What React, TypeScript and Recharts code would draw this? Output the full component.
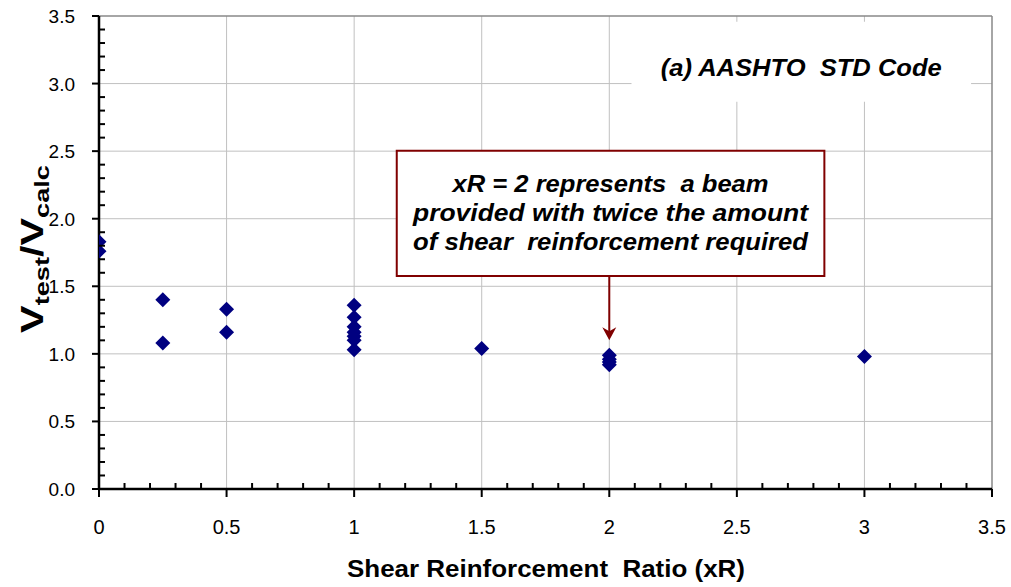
import React from 'react';
import {
  ScatterChart,
  Scatter,
  XAxis,
  YAxis,
  CartesianGrid,
  ReferenceArea,
  ReferenceLine,
} from 'recharts';

// Shear reinforcement ratio (xR) of each test beam and its Vtest/Vcalc
const xR = [0, 0, 0.25, 0.25, 0.5, 0.5, 1, 1, 1, 1, 1, 1, 1, 1.5, 2, 2, 2, 2, 3];
const ratio = [1.83, 1.76, 1.4, 1.08, 1.33, 1.16, 1.36, 1.27, 1.2, 1.16, 1.13, 1.1, 1.03, 1.04, 0.99, 0.96, 0.94, 0.92, 0.98];

const X_TICKS = [0, 0.5, 1, 1.5, 2, 2.5, 3, 3.5];
const Y_TICKS = [0, 0.5, 1, 1.5, 2, 2.5, 3, 3.5];

const NOTE_LINES = [
  'xR = 2 represents  a beam',
  'provided with twice the amount',
  'of shear  reinforcement required',
];
const NOTE_WIDTHS = [316, 395, 395];

const FONT = '"Liberation Sans", Arial, sans-serif';
const NAVY = '#000080';
const MAROON = '#800000';

const points = xR.map((x, i) => ({ x, y: ratio[i] }));

// minor ticks every 0.1 between the labelled ones
const withMinor = (major: number[]) => {
  const out: number[] = [];
  major.forEach((v, i) => {
    out.push(v);
    if (i < major.length - 1) {
      for (let k = 1; k < 5; k++) out.push(Math.round((v + ((major[i + 1] - v) * k) / 5) * 100) / 100);
    }
  });
  return out;
};

const isMajor = (v: number) => Math.abs(v * 2 - Math.round(v * 2)) < 1e-6;

const YTick = (props: any) => {
  const { x, y, payload } = props;
  const v = payload.value;
  if (!isMajor(v)) return <line x1={x} x2={x + 6} y1={y} y2={y} stroke="#000" strokeWidth={2} />;
  return (
    <g>
      <line x1={x - 7} x2={x} y1={y} y2={y} stroke="#000" strokeWidth={2} />
      <text x={x - 24} y={y + 7} textAnchor="end" fontSize={19} fontFamily={FONT} fill="#000">
        {v.toFixed(1)}
      </text>
    </g>
  );
};

const XTick = (props: any) => {
  const { x, y, payload } = props;
  const v = payload.value;
  if (!isMajor(v)) return <line x1={x} x2={x} y1={y - 6} y2={y} stroke="#000" strokeWidth={2} />;
  return (
    <g>
      <line x1={x} x2={x} y1={y} y2={y + 8} stroke="#000" strokeWidth={2} />
      <text x={x} y={y + 45} textAnchor="middle" fontSize={20} fontFamily={FONT} fill="#000">
        {String(v)}
      </text>
    </g>
  );
};

const Diamond = (props: any) => {
  const { cx, cy } = props;
  const r = 7.5;
  return <polygon points={`${cx},${cy - r} ${cx + r},${cy} ${cx},${cy + r} ${cx - r},${cy}`} fill={NAVY} />;
};

const Arrow = (props: any) => {
  const { x1, y1, x2, y2 } = props;
  return (
    <g>
      <line x1={x1} y1={y1} x2={x2} y2={y2 - 8} stroke={MAROON} strokeWidth={2} />
      <polygon points={`${x2},${y2} ${x2 + 7},${y2 - 13} ${x2},${y2 - 9} ${x2 - 7},${y2 - 13}`} fill={MAROON} />
    </g>
  );
};

const NoteText = ({ viewBox }: any) => {
  const cx = viewBox.x + viewBox.width / 2;
  return (
    <g>
      {NOTE_LINES.map((t, i) => (
        <text
          key={i}
          x={cx}
          y={viewBox.y + 41 + i * 29}
          textAnchor="middle"
          fontSize={24}
          fontWeight="bold"
          fontStyle="italic"
          fontFamily={FONT}
          textLength={NOTE_WIDTHS[i]}
          lengthAdjust="spacingAndGlyphs"
          style={{ whiteSpace: 'pre' }}
          fill="#000"
        >
          {t}
        </text>
      ))}
    </g>
  );
};

const TitleText = ({ viewBox }: any) => (
  <text
    x={viewBox.x + viewBox.width / 2}
    y={viewBox.y + 54}
    textAnchor="middle"
    fontSize={23}
    fontWeight="bold"
    fontStyle="italic"
    fontFamily={FONT}
    textLength={281}
    lengthAdjust="spacingAndGlyphs"
    style={{ whiteSpace: 'pre' }}
    fill="#000"
  >
    (a) AASHTO  STD Code
  </text>
);

export default function App() {
  return (
    <div style={{ position: 'absolute', left: 0, top: 0, width: 1011, height: 587, background: '#fff' }}>
      <ScatterChart width={1011} height={587} margin={{ top: 16, right: 19, bottom: 0, left: 0 }}>
        <CartesianGrid
          stroke="#c0c0c0"
          strokeWidth={1}
          horizontalValues={Y_TICKS.slice(1, -1)}
          verticalValues={X_TICKS.slice(1, -1)}
        />
        <XAxis
          type="number"
          dataKey="x"
          domain={[0, 3.5]}
          ticks={withMinor(X_TICKS)}
          interval={0}
          height={98}
          tickSize={0}
          tickMargin={0}
          tickLine={false}
          tick={<XTick />}
          axisLine={{ stroke: '#000', strokeWidth: 2.5 }}
          allowDataOverflow
        />
        <YAxis
          type="number"
          dataKey="y"
          domain={[0, 3.5]}
          ticks={withMinor(Y_TICKS)}
          interval={0}
          width={99}
          tickSize={0}
          tickMargin={0}
          tickLine={false}
          tick={<YTick />}
          axisLine={{ stroke: '#000', strokeWidth: 2.5 }}
          allowDataOverflow
        />
        <ReferenceLine y={3.5} stroke="#888" strokeWidth={1.5} />
        <ReferenceLine x={3.5} stroke="#888" strokeWidth={1.5} />
        <ReferenceArea
          x1={2.087}
          x2={3.418}
          y1={2.865}
          y2={3.457}
          fill="#fff"
          fillOpacity={1}
          stroke="none"
          label={<TitleText />}
        />
        <ReferenceArea
          x1={1.167}
          x2={2.843}
          y1={1.577}
          y2={2.502}
          fill="#fff"
          fillOpacity={1}
          stroke={MAROON}
          strokeWidth={2}
          label={<NoteText />}
        />
        <ReferenceLine
          segment={[
            { x: 2, y: 1.577 },
            { x: 2, y: 1.1 },
          ]}
          shape={<Arrow />}
        />
        <Scatter data={points} dataKey="y" shape={<Diamond />} isAnimationActive={false} />
      </ScatterChart>
      <svg width={1011} height={587} style={{ position: 'absolute', left: 0, top: 0, pointerEvents: 'none' }}>
        <text
          x={0}
          y={0}
          transform="translate(43 249) rotate(-90)"
          textAnchor="middle"
          fontWeight="bold"
          fontFamily={FONT}
          fill="#000"
          textLength={168}
          lengthAdjust="spacingAndGlyphs"
        >
          <tspan fontSize={32}>V</tspan>
          <tspan fontSize={21} dy={6}>test</tspan>
          <tspan fontSize={32} dy={-6}>/V</tspan>
          <tspan fontSize={21} dy={6}>calc</tspan>
        </text>
        <text
          x={546}
          y={577}
          textAnchor="middle"
          fontSize={23}
          fontWeight="bold"
          fontFamily={FONT}
          fill="#000"
          textLength={398}
          lengthAdjust="spacingAndGlyphs"
          style={{ whiteSpace: 'pre' }}
        >
          Shear Reinforcement  Ratio (xR)
        </text>
      </svg>
    </div>
  );
}
